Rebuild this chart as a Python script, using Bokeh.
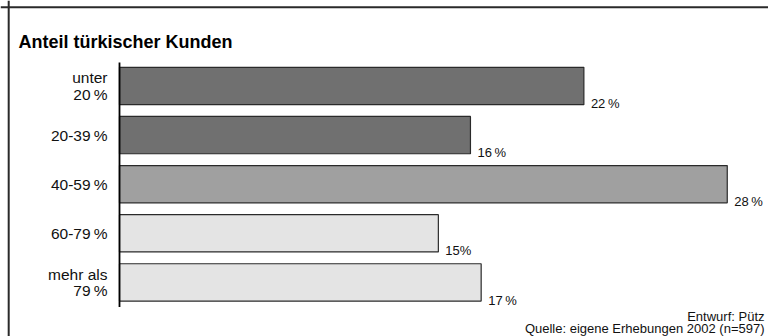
from bokeh.plotting import figure
from bokeh.models import Range1d, Label, Span, ColumnDataSource
from bokeh.core.properties import value
from bokeh.embed import file_html
from bokeh.resources import INLINE

# ---- data ----
categories = ["unter\n20\u2009%", "20-39\u2009%", "40-59\u2009%", "60-79\u2009%", "mehr als\n79\u2009%"]
shares = [21.7, 16.4, 28.4, 14.9, 16.9]
share_labels = ["22\u2009%", "16\u2009%", "28\u2009%", "15%", "17\u2009%"]
bar_colors = ["#707070", "#707070", "#a0a0a0", "#e4e4e4", "#e4e4e4"]
title_text = "Anteil türkischer Kunden"
credit_text = "Entwurf: Pütz"
source_text = "Quelle: eigene Erhebungen 2002 (n=597)"

# ---- layout constants (pixels) ----
W, H = 768, 336
PX_PER_UNIT = 21.4      # pixels per percent
ZERO_PX = 119           # x pixel of the 0 line
ROW_PX = 49.1           # pixels between bar centres
FIRST_ROW_PX = 85.5     # y pixel of first bar centre from top

xs = -ZERO_PX / PX_PER_UNIT
xe = xs + W / PX_PER_UNIT
ytop = -FIRST_ROW_PX / ROW_PX
ybot = ytop + H / ROW_PX

FONT_NAME = "Liberation Sans"
FONT = value(FONT_NAME)

p = figure(width=W, height=H, output_backend="svg", toolbar_location=None,
           x_range=Range1d(xs, xe), y_range=Range1d(ybot, ytop),
           min_border=0, min_border_left=0, min_border_right=0,
           min_border_top=0, min_border_bottom=0)
p.xaxis.visible = False
p.yaxis.visible = False
p.grid.visible = False
p.outline_line_color = None
p.background_fill_color = "white"
p.border_fill_color = "white"

idx = list(range(len(categories)))
src = ColumnDataSource(dict(y=idx, right=shares, color=bar_colors,
                            cat=categories, lab=share_labels,
                            lab_y=[i + 0.36 for i in idx]))

p.hbar(y="y", left=0, right="right", height=0.76, fill_color="color",
       line_color="#2a2a2a", line_width=1.2, source=src)

# axis line
p.segment(x0=[0], y0=[-0.48], x1=[0], y1=[len(categories) - 0.5],
          line_color="black", line_width=1.8)

# category labels
p.text(x=0, y="y", text="cat", source=src, x_offset=-12,
       text_align="right", text_baseline="middle", text_font=FONT,
       text_font_size="15.5px", text_color="#111111", text_line_height=0.97)

# value labels
p.text(x="right", y="lab_y", text="lab", source=src, x_offset=7,
       text_align="left", text_baseline="alphabetic", text_font=FONT,
       text_font_size="13px", text_color="#111111")

# frame lines (left and top)
p.add_layout(Span(location=xs + 8.2 / PX_PER_UNIT, dimension="height",
                  line_color="#2a2a2a", line_width=2))
p.add_layout(Span(location=ytop + 6.8 / ROW_PX, dimension="width",
                  line_color="#2a2a2a", line_width=2))

# title and footer
p.add_layout(Label(x=18, y=H - 41, x_units="screen", y_units="screen",
                   text=title_text, text_font=FONT_NAME, text_font_size="18px",
                   text_font_style="bold", text_color="black",
                   text_baseline="alphabetic"))
p.add_layout(Label(x=764, y=H - 316, x_units="screen", y_units="screen",
                   text=credit_text, text_font=FONT_NAME, text_font_size="13px",
                   text_align="right", text_color="#111111",
                   text_baseline="alphabetic"))
p.add_layout(Label(x=764, y=H - 328, x_units="screen", y_units="screen",
                   text=source_text, text_font=FONT_NAME, text_font_size="13px",
                   text_align="right", text_color="#111111",
                   text_baseline="alphabetic"))

open("out.html", "w").write(file_html(p, INLINE))
